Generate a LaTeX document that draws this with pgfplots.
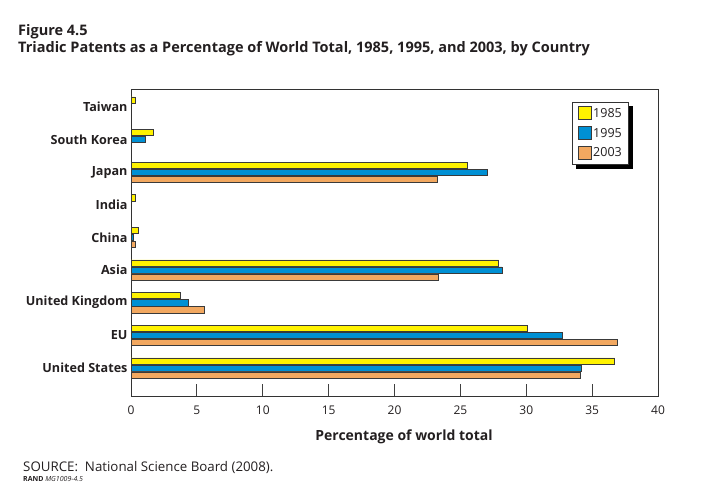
\documentclass[border=0pt]{standalone}
\usepackage{pgfplots}
\pgfplotsset{compat=1.18}
\usepackage{fontspec}
\setmainfont{Open Sans}
\usetikzlibrary{backgrounds}
\definecolor{cy}{HTML}{FFF200}
\definecolor{cb}{HTML}{0090D4}
\definecolor{co}{HTML}{F2A860}
\definecolor{edge}{HTML}{3A3A3A}
\definecolor{txt}{HTML}{231F20}
\begin{document}
\begin{tikzpicture}
\useasboundingbox (0pt,0pt) rectangle (717pt,489pt);
\node[anchor=base west,inner sep=0pt,font=\fontsize{14.5}{16}\selectfont\bfseries,text=txt] at (18pt,453pt) {Figure 4.5};
\node[anchor=base west,inner sep=0pt,font=\fontsize{14.5}{16}\selectfont\bfseries,text=txt] at (18pt,436pt) {Triadic Patents as a Percentage of World Total, 1985, 1995, and 2003, by Country};
\begin{axis}[
  at={(131pt,92pt)}, anchor=south west,
  scale only axis, width=527pt, height=307pt,
  xmin=0, xmax=40, ymin=-0.89, ymax=8.52,
  xbar, bar width=0.19,
  xtick={0,5,...,40}, xtick pos=bottom, tick align=inside,
  major tick length=13pt,
  tick style={black!75, line width=0.8pt},
  ytick={0,...,8},
  yticklabels={United States,EU,United Kingdom,Asia,China,India,Japan,South Korea,Taiwan},
  ytick style={draw=none},
  yticklabel style={font=\fontsize{12.6}{14}\selectfont\bfseries, text=txt},
  xticklabel style={font=\fontsize{12}{14}\selectfont, text=txt},
  xticklabel shift=5pt,
  /pgf/number format/assume math mode=true,
  axis line style={black!80, line width=1pt},
  xlabel={Percentage of world total},
  xlabel style={font=\fontsize{14}{16}\selectfont\bfseries, text=txt, at={(axis description cs:0.518,0)}, anchor=base, yshift=-43.7pt},
  legend cell align=left,
  legend style={name=leg, at={(0.837,0.961)}, anchor=north west, draw=black!80, line width=0.8pt, fill=white,
    font=\fontsize{12.5}{15}\selectfont, text=txt, row sep=5pt, inner xsep=5pt, inner ysep=4pt},
  legend image code/.code={\draw[#1, draw=edge, line width=0.7pt] (0pt,-6pt) rectangle (13pt,7pt);},
]
\addplot[fill=cy, draw=edge, line width=0.6pt, bar shift=0.215] coordinates {
 (36.7,0) (30.1,1) (3.75,2) (27.9,3) (0.55,4) (0.3,5) (25.5,6) (1.7,7) (0.3,8)};
\addplot[fill=cb, draw=edge, line width=0.6pt, bar shift=0] coordinates {
 (34.2,0) (32.75,1) (4.35,2) (28.15,3) (0.18,4) (27.05,6) (1.05,7)};
\addplot[fill=co, draw=edge, line width=0.6pt, bar shift=-0.215] coordinates {
 (34.1,0) (36.9,1) (5.6,2) (23.3,3) (0.3,4) (23.25,6)};
\legend{1985\hspace{5pt},1995\hspace{5pt},2003\hspace{5pt}}
\end{axis}
\begin{pgfonlayer}{background}
\fill[black] ([xshift=4pt,yshift=-4pt]leg.south west) rectangle ([xshift=4pt,yshift=-4pt]leg.north east);
\end{pgfonlayer}
\node[anchor=base west,inner sep=0pt,font=\fontsize{13.3}{15}\selectfont,text=txt] at (23pt,17pt) {SOURCE:\ \ National Science Board (2008).};
\node[anchor=base west,inner sep=0pt,font=\fontsize{7}{8}\selectfont,text=txt] at (23pt,7pt) {\textbf{RAND} \textit{MG1009-4.5}};
\end{tikzpicture}
\end{document}
